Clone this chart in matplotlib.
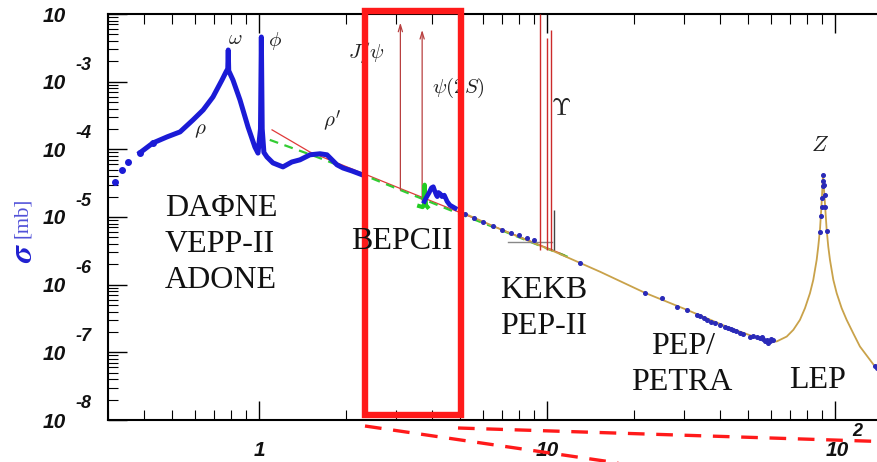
import matplotlib
matplotlib.use('Agg')
import matplotlib.pyplot as plt
from matplotlib.patches import Rectangle
from matplotlib.lines import Line2D
from matplotlib.ticker import LogLocator, NullFormatter
import matplotlib.transforms as mtransforms

plt.rcParams['mathtext.fontset'] = 'cm'

# low energy hadronic data: rho / omega / phi / rho'
low_x = [0.316, 0.334, 0.351, 0.386, 0.428, 0.480, 0.532, 0.590, 0.640, 0.692,
         0.744, 0.768, 0.779, 0.782, 0.785, 0.812, 0.859, 0.916, 0.968, 0.992,
         1.012, 1.019, 1.026, 1.040, 1.066, 1.118, 1.211, 1.300, 1.388, 1.503,
         1.629, 1.722, 1.866, 1.958, 2.10, 2.25]
low_y = [3.3e-5, 5.0e-5, 6.5e-5, 8.9e-5, 1.24e-4, 1.53e-4, 1.81e-4, 2.72e-4, 3.82e-4, 5.94e-4,
         1.06e-3, 1.39e-3, 1.55e-3, 2.94e-3, 1.45e-3, 1.06e-3, 5.37e-4, 2.14e-4, 1.08e-4, 8.8e-5,
         2.0e-4, 4.57e-3, 2.0e-4, 9.0e-5, 7.7e-5, 6.3e-5, 5.5e-5, 6.5e-5, 7.0e-5, 8.3e-5,
         8.6e-5, 8.3e-5, 5.9e-5, 5.3e-5, 4.8e-5, 4.3e-5]

# BES R-scan (charm threshold)
bes_x = [3.75, 3.80, 3.90, 3.97, 4.03, 4.08, 4.13, 4.16, 4.20, 4.26, 4.32, 4.40, 4.50, 4.60, 4.80]
bes_y = [1.7e-5, 1.9e-5, 2.3e-5, 2.7e-5, 2.8e-5, 2.4e-5, 2.1e-5, 2.0e-5, 2.3e-5, 2.2e-5,
         2.0e-5, 2.1e-5, 1.7e-5, 1.5e-5, 1.35e-5]
green_x = [3.60, 3.70, 3.74, 3.76, 3.77, 3.78, 3.80, 3.85]
green_y = [1.45e-5, 1.4e-5, 1.5e-5, 3.0e-5, 1.8e-5, 2.2e-5, 1.5e-5, 1.4e-5]

# theory curves
red_x = [1.11, 1.30, 1.50, 2.3, 3.1, 4.9, 7.0, 10.4, 11.5]
red_y = [1.94e-4, 1.31e-4, 9.16e-5, 4.41e-5, 2.63e-5, 1.20e-5, 6.47e-6, 3.27e-6, 2.75e-6]
grn_x = [1.09, 1.59, 2.3, 3.1, 4.6, 7.0, 10.4, 12.0]
grn_y = [1.38e-4, 7.7e-5, 4.2e-5, 2.5e-5, 1.27e-5, 6.3e-6, 3.2e-6, 2.5e-6]
tan_x = [5.0, 7.0, 10.4, 15.3, 21.9, 30.6, 42.2, 58.0, 62.8, 68.0, 71.7, 75.6, 78.7, 81.9,
         84.1, 86.4, 87.5, 88.7, 89.9, 90.9, 92.3, 93.6, 94.8, 96.1, 98.7, 101.4, 105.5,
         109.8, 115.7, 122.1, 132.3, 137.7, 150.0]
tan_y = [1.2e-5, 6.4e-6, 3.2e-6, 1.55e-6, 7.57e-7, 4.25e-7, 2.38e-7, 1.45e-7, 1.45e-7, 1.71e-7,
         2.15e-7, 3.02e-7, 4.50e-7, 7.48e-7, 1.18e-6, 2.32e-6, 3.65e-6, 6.44e-6, 1.60e-5,
         4.19e-5, 1.60e-5, 6.44e-6, 3.65e-6, 2.32e-6, 1.18e-6, 7.48e-7, 4.50e-7, 3.02e-7,
         1.92e-7, 1.22e-7, 7.74e-8, 6.17e-8, 4.6e-8]

# high energy data points
hi_x = [5.2, 5.6, 6.0, 6.5, 7.0, 7.5, 8.0, 8.5, 9.0, 13.0, 21.9, 25.0, 28.2, 30.6, 33.1, 34.0,
        35.0, 35.9, 37.0, 38.3, 39.8, 41.5, 42.6, 43.5, 44.4, 45.5, 46.8, 48.0, 50.7, 52.0,
        53.5, 54.9, 55.6, 56.4, 57.2, 57.9, 58.7, 59.5, 60.2, 61.1,
        91.1, 91.0, 90.8, 90.4, 91.6, 90.0, 92.0, 89.5, 92.6, 88.5, 94.0, 137.5, 139.5]
hi_y = [1.1e-5, 9.6e-6, 8.4e-6, 7.3e-6, 6.5e-6, 5.9e-6, 5.5e-6, 4.9e-6, 4.5e-6, 2.1e-6,
        7.5e-7, 6.3e-7, 4.75e-7, 4.25e-7, 3.6e-7, 3.4e-7, 3.25e-7, 3.0e-7, 2.85e-7, 2.7e-7,
        2.5e-7, 2.4e-7, 2.3e-7, 2.25e-7, 2.15e-7, 2.05e-7, 1.9e-7, 1.85e-7, 1.7e-7, 1.75e-7,
        1.68e-7, 1.62e-7, 1.7e-7, 1.6e-7, 1.48e-7, 1.53e-7, 1.37e-7, 1.45e-7, 1.58e-7, 1.5e-7,
        4.2e-5, 3.45e-5, 2.85e-5, 1.94e-5, 3.0e-5, 1.4e-5, 2.1e-5, 1.05e-5, 1.4e-5, 6.0e-6,
        6.2e-6, 6.3e-8, 5.8e-8]

# narrow resonances (position, base, top)
psi_x = [3.097, 3.686]
psi_base = [2.27e-5, 1.61e-5]
psi_top = [8.2e-3, 6.4e-3]
ups_x = [9.46, 10.02, 10.355, 10.58]
ups_top = [1.0e-2, 4.4e-3, 5.8e-3, 1.27e-5]
ups_base = 3.3e-6

W, H = 877, 462
fig = plt.figure(figsize=(W / 100, H / 100), dpi=100)
ax = fig.add_axes([108 / W, 42 / H, 782 / W, 406 / H])
ax.set_xscale('log')
ax.set_yscale('log')
ax.set_xlim(0.299, 155.3)
ax.set_ylim(1e-8, 1e-2)

blue = '#1b1bd6'
ax.plot(low_x[3:], low_y[3:], color=blue, lw=3.6, solid_joinstyle='round', zorder=4)
ax.plot(low_x[:5], low_y[:5], 'o', color=blue, ms=4, zorder=4)
ax.plot(red_x, red_y, color='#e03a3a', lw=0.9, zorder=3)
ax.plot(grn_x, grn_y, color='#33cc33', lw=1.6, ls=(0, (4, 3)), zorder=3)
ax.plot(tan_x, tan_y, color='#c9a24a', lw=1.3, zorder=3)
ax.plot(green_x, green_y, color='#22cc22', lw=3.0, zorder=5)
ax.plot(bes_x, bes_y, color=blue, lw=3.4, zorder=5)
ax.plot(hi_x, hi_y, 'o', color='#2a2ab8', ms=2.6, zorder=5)
ax.plot([7.3, 10.4], [4.28e-6, 4.28e-6], color='#888888', lw=1.0, zorder=3)

for x0, b0, t0 in zip(psi_x, psi_base, psi_top):
    ax.annotate('', xy=(x0, t0), xytext=(x0, b0),
                arrowprops=dict(arrowstyle='->,head_length=0.5,head_width=0.15',
                                color='#b84040', lw=0.9), zorder=3)
ax.vlines(ups_x[:3], ups_base, ups_top[:3], color='#cc2a2a', lw=1.0, zorder=3)
ax.vlines(ups_x[3:], ups_base, ups_top[3:], color='#444444', lw=1.0, zorder=3)

# axes styling (ROOT-like)
for s in ['left', 'bottom', 'top']:
    ax.spines[s].set_linewidth(1.5)
ax.spines['right'].set_visible(False)
ax.xaxis.set_major_locator(LogLocator(base=10, numticks=10))
ax.xaxis.set_minor_locator(LogLocator(base=10, subs=range(2, 10), numticks=20))
ax.yaxis.set_major_locator(LogLocator(base=10, numticks=10))
ax.yaxis.set_minor_locator(LogLocator(base=10, subs=range(2, 10), numticks=20))
ax.xaxis.set_major_formatter(NullFormatter())
ax.xaxis.set_minor_formatter(NullFormatter())
ax.yaxis.set_major_formatter(NullFormatter())
ax.yaxis.set_minor_formatter(NullFormatter())
ax.tick_params(which='major', direction='in', length=14, width=1.0, top=True, right=False)
ax.tick_params(which='minor', direction='in', length=7, width=0.8, top=True, right=False)

lab = dict(family='Liberation Sans', weight='bold', style='italic', color='#111111')
for e in range(-8, -1):
    ax.annotate('10', xy=(0, 10.0 ** e), xycoords=('axes fraction', 'data'),
                xytext=(-54, -2), textcoords='offset pixels', ha='center', va='center',
                fontsize=15, annotation_clip=False, **lab)
    if e < -2:  # the top exponent lies outside the cropped picture
        ax.annotate(str(e), xy=(0, 10.0 ** e), xycoords=('axes fraction', 'data'),
                    xytext=(-24, 16), textcoords='offset pixels', ha='center', va='center',
                    fontsize=13, annotation_clip=False, **lab)
for xv, txt in [(1, '1'), (10, '10'), (100, '10')]:
    ax.annotate(txt, xy=(xv, 0), xycoords=('data', 'axes fraction'),
                xytext=(2 if xv == 100 else 0, -30), textcoords='offset pixels',
                ha='center', va='center', fontsize=15, annotation_clip=False, **lab)
ax.annotate('2', xy=(100, 0), xycoords=('data', 'axes fraction'), xytext=(22, -12),
            textcoords='offset pixels', ha='center', va='center', fontsize=13,
            annotation_clip=False, **lab)

fig.text(23 / W, 1 - 253 / H, r'$\boldsymbol{\sigma}$', rotation=90, color='#2020d0',
         fontsize=24, ha='center', va='center')
fig.text(22 / W, 1 - 218 / H, '[mb]', rotation=90, color='#5050d8',
         family='Liberation Serif', fontsize=15, ha='center', va='center')

# resonance / region labels
greek = [(r'$\omega$', 0.826, 2.355), (r'$\phi$', 1.136, 2.40), (r'$\rho$', 0.624, 3.71),
         (r"$\rho'$", 1.79, 3.595)]
for t, xv, ly in greek:
    ax.text(xv, 10 ** -ly, t, fontsize=15, ha='center', va='center', color='#222222')
ax.text(2.37, 10 ** -2.576, r'$J/\psi$', fontsize=15, ha='center', va='center', color='#222222')
ax.text(4.91, 10 ** -3.093, r'$\psi(2S)$', fontsize=15, ha='center', va='center', color='#222222')
ax.text(11.2, 10 ** -3.389, r'$\Upsilon$', fontsize=18, ha='center', va='center', color='#222222')
ax.text(88.8, 10 ** -3.935, r'$Z$', fontsize=16, ha='center', va='center', color='#222222')

serif = dict(family='Liberation Serif', fontsize=23, color='#111111', va='center', ha='left')
for t, px, py in [('DAΦNE', 165, 208), ('VEPP-II', 165, 244), ('ADONE', 165, 281),
                  ('BEPCII', 351, 241), ('KEKB', 500, 290), ('PEP-II', 500, 327),
                  ('PEP/', 651, 347), ('PETRA', 631, 383), ('LEP', 789, 380)]:
    fig.text(px / W, 1 - py / H, t, **serif)

# BEPCII highlight box
tr = mtransforms.blended_transform_factory(ax.transData, ax.transAxes)
ax.add_patch(Rectangle((2.33, 0.0123), 5.03 - 2.33, 0.995, transform=tr, fill=False,
                       edgecolor='#ff1a1a', lw=4.6, clip_on=False, zorder=10))
for (x0, y0), (x1, y1) in [((365, 426), (625, 464)), ((458, 428), (880, 441.5))]:
    fig.add_artist(Line2D([x0 / W, x1 / W], [1 - y0 / H, 1 - y1 / H], color='#ff1a1a',
                          lw=2.4, ls=(0, (5, 3.5)), transform=fig.transFigure, zorder=10))

fig.savefig('out.png', dpi=100)
